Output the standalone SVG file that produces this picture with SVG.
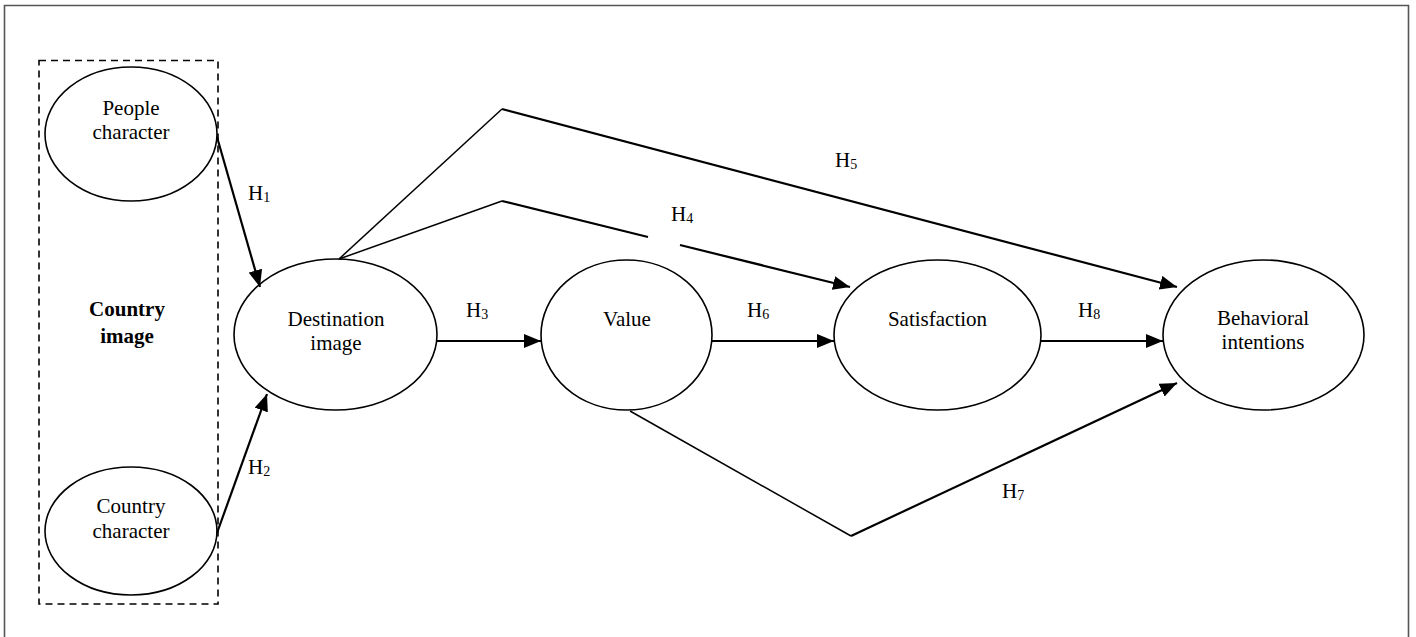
<svg xmlns="http://www.w3.org/2000/svg" width="1416" height="637" viewBox="0 0 1416 637">
<style>
.node{fill:#fff;stroke:#000;stroke-width:1.6}
.t{font-family:"Liberation Serif","Times New Roman",serif;font-size:21px;fill:#000;text-anchor:middle}
.b{font-weight:bold}
.h{font-family:"Liberation Serif","Times New Roman",serif;font-size:21px;fill:#000}
.sub{font-size:14px}
.arr{fill:none;stroke:#000;stroke-width:2.2;marker-end:url(#ah)}
.thin{fill:none;stroke:#000;stroke-width:1.5}
.thick{fill:none;stroke:#000;stroke-width:2.2}
</style>
<defs>
<marker id="ah" markerUnits="userSpaceOnUse" markerWidth="18" markerHeight="14" refX="17" refY="7" orient="auto">
<path d="M0,0 L17,7 L0,14 z" fill="#000"/>
</marker>
</defs>
<rect x="0" y="0" width="1416" height="637" fill="#fff"/>
<path d="M4.5,640 L4.5,5.5 L1408.5,5.5 L1408.5,640" fill="none" stroke="#555" stroke-width="1.6"/>
<g id="country-image">
<rect x="39" y="60.5" width="179" height="543.5" fill="none" stroke="#000" stroke-width="1.6" stroke-dasharray="7 5"/>
<text class="t b" x="127" y="316">Country</text>
<text class="t b" x="127" y="343">image</text>
</g>
<g id="people-character">
<ellipse class="node" cx="131" cy="134" rx="86" ry="67"/>
<text class="t" x="131" y="115">People</text>
<text class="t" x="131" y="139">character</text>
</g>
<g id="country-character">
<ellipse class="node" cx="131" cy="531" rx="86" ry="64"/>
<text class="t" x="131" y="513">Country</text>
<text class="t" x="131" y="538">character</text>
</g>
<g id="destination-image">
<ellipse class="node" cx="335.5" cy="334.5" rx="101.5" ry="75.5"/>
<text class="t" x="336" y="326">Destination</text>
<text class="t" x="336" y="350">image</text>
</g>
<g id="value">
<ellipse class="node" cx="626.5" cy="335" rx="85.5" ry="75"/>
<text class="t" x="627" y="326">Value</text>
</g>
<g id="satisfaction">
<ellipse class="node" cx="937.5" cy="335" rx="103.5" ry="75"/>
<text class="t" x="937.5" y="326">Satisfaction</text>
</g>
<g id="behavioral-intentions">
<ellipse class="node" cx="1263.5" cy="335" rx="100.5" ry="75"/>
<text class="t" x="1263" y="325">Behavioral</text>
<text class="t" x="1263" y="349">intentions</text>
</g>
<g id="connectors">
<line class="arr" x1="217" y1="137" x2="260" y2="287"/>
<line class="arr" x1="217" y1="533" x2="267" y2="394"/>
<line class="arr" x1="437" y1="341" x2="541" y2="341"/>
<line class="arr" x1="712" y1="341" x2="834" y2="341"/>
<line class="arr" x1="1041" y1="341" x2="1163" y2="341"/>
<path class="thin" d="M339,259 L502,201"/>
<path class="thick" d="M502,201 L648,237"/>
<path class="arr" d="M680,245 L850,287"/>
<path class="thin" d="M339,259 L502,109"/>
<path class="arr" d="M502,109 L1177,287"/>
<path class="thin" d="M630,411 L851,536"/>
<path class="arr" d="M851,536 L1177,383"/>
<text class="h" x="248" y="200">H<tspan class="sub" dy="2">1</tspan></text>
<text class="h" x="248" y="474">H<tspan class="sub" dy="2">2</tspan></text>
<text class="h" x="466" y="317">H<tspan class="sub" dy="2">3</tspan></text>
<text class="h" x="671" y="221">H<tspan class="sub" dy="2">4</tspan></text>
<text class="h" x="835" y="167">H<tspan class="sub" dy="2">5</tspan></text>
<text class="h" x="747" y="317">H<tspan class="sub" dy="2">6</tspan></text>
<text class="h" x="1002" y="498">H<tspan class="sub" dy="2">7</tspan></text>
<text class="h" x="1078" y="317">H<tspan class="sub" dy="2">8</tspan></text>
</g>
</svg>
